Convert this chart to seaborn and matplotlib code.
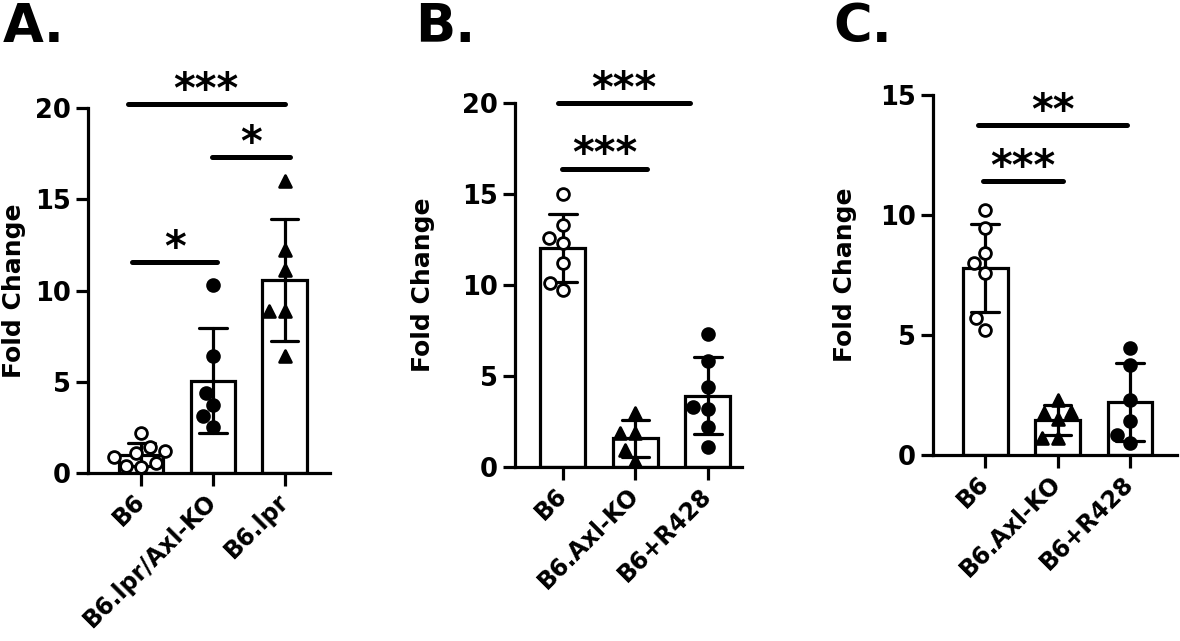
import numpy as np
import pandas as pd
import seaborn as sns
import matplotlib.pyplot as plt

sns.set_style("ticks")
plt.rcParams['font.family'] = ['DejaVu Sans']
plt.rcParams['font.weight'] = 'bold'
plt.rcParams['axes.labelweight'] = 'bold'
for k in ('text.color', 'axes.labelcolor', 'xtick.color', 'ytick.color', 'axes.edgecolor'):
    plt.rcParams[k] = 'black'

# Panel A data
A_groups = ["B6", "B6.lpr/Axl-KO", "B6.lpr"]
A_b6 = [2.2, 1.4, 1.2, 1.1, 0.9, 0.55, 0.4, 0.35]
A_axl = [10.3, 6.4, 4.4, 3.7, 3.1, 2.5]
A_lpr = [16.0, 12.2, 11.1, 8.9, 8.9, 6.4]

# Panel B data
B_groups = ["B6", "B6.Axl-KO", "B6+R428"]
B_b6 = [15.0, 13.3, 12.6, 12.3, 11.2, 10.1, 9.7]
B_axl = [2.95, 1.85, 1.85, 0.9, 0.3]
B_r428 = [7.3, 5.8, 4.4, 3.3, 3.2, 2.2, 1.1]

# Panel C data
C_groups = ["B6", "B6.Axl-KO", "B6+R428"]
C_b6 = [10.2, 9.45, 8.4, 8.0, 7.6, 5.7, 5.2]
C_axl = [2.3, 1.8, 1.75, 1.5, 0.7, 0.7]
C_r428 = [4.46, 3.75, 2.3, 1.4, 0.83, 0.5]

# significance: (group from, group to, height, label)
A_sig = [("B6", "B6.lpr", 20.2, "***"), ("B6.lpr/Axl-KO", "B6.lpr", 17.3, "*"),
         ("B6", "B6.lpr/Axl-KO", 11.55, "*")]
B_sig = [("B6", "B6+R428", 20.0, "***"), ("B6", "B6.Axl-KO", 16.4, "***")]
C_sig = [("B6", "B6+R428", 13.75, "**"), ("B6", "B6.Axl-KO", 11.4, "***")]

# how far each line runs past the bar centres (left, right)
A_ext = [(-0.19, 0.0), (-0.01, 0.07), (-0.125, 0.06)]
B_ext = [(-0.07, -0.25), (-0.01, 0.16)]
C_ext = [(-0.1, -0.04), (-0.03, 0.08)]

markers = [("o", "white"), ("o", "black"), ("^", "black")]
LW = 2.3

fig = plt.figure(figsize=(11.8, 6.41), dpi=100)
panels = [
    ("A.", A_groups, [A_b6, A_axl, A_lpr], [markers[0], markers[1], markers[2]],
     A_sig, A_ext, [0.0746, 0.2621, 0.205, 0.5694], (-0.74, 2.63), 20, [0, 5, 10, 15, 20], -0.255, 0.002),
    ("B.", B_groups, [B_b6, B_axl, B_r428], [markers[0], markers[2], markers[1]],
     B_sig, B_ext, [0.4364, 0.2719, 0.1924, 0.567], (-0.66, 2.47), 20, [0, 5, 10, 15, 20], -0.35, 0.352),
    ("C.", C_groups, [C_b6, C_axl, C_r428], [markers[0], markers[2], markers[1]],
     C_sig, C_ext, [0.7907, 0.2902, 0.2068, 0.5616], (-0.72, 2.65), 15, [0, 5, 10, 15], -0.31, 0.706),
]

for letter, groups, vals, mks, sig, ext, pos, xlim, ymax, yticks, labx, letx in panels:
    ax = fig.add_axes(pos)
    df = pd.DataFrame({
        "group": np.repeat(groups, [len(v) for v in vals]),
        "value": np.concatenate(vals),
    })
    sns.barplot(data=df, x="group", y="value", order=groups, errorbar="sd",
                width=0.62, fill=False, color="black", linewidth=LW,
                capsize=0.38, err_kws={"linewidth": LW, "color": "black"}, ax=ax)
    for g, (m, fc) in zip(groups, mks):
        sns.swarmplot(data=df[df["group"] == g], x="group", y="value", order=groups,
                      marker=m, size=8.5, color=fc, edgecolor="black", linewidth=2,
                      ax=ax, zorder=5, warn_thresh=1)
    ax.set_xlim(*xlim)
    ax.set_ylim(0, ymax)
    ax.set_yticks(yticks)
    sns.despine(ax=ax)
    for s in ("left", "bottom"):
        ax.spines[s].set_linewidth(LW)
    ax.tick_params(axis="both", width=LW, length=9, labelsize=18.5, color="black")
    ax.tick_params(axis="x", pad=9, labelsize=17)
    for lab in ax.get_xticklabels():
        lab.set_rotation(45)
        lab.set_ha("right")
        lab.set_va("center")
        lab.set_rotation_mode("anchor")
        lab.set_fontweight("bold")
    for lab in ax.get_yticklabels():
        lab.set_fontweight("bold")
    ax.set_xlabel("")
    ax.set_ylabel("Fold Change", fontsize=18, fontweight="bold")
    ax.yaxis.set_label_coords(labx, 0.5)

    for (g0, g1, h, txt), (e0, e1) in zip(sig, ext):
        x0 = groups.index(g0) + e0
        x1 = groups.index(g1) + e1
        ax.plot([x0, x1], [h, h], color="black", lw=3.6, solid_capstyle="round",
                clip_on=False)
        ax.annotate(txt, ((x0 + x1) / 2, h), xytext=(0, 1), textcoords="offset points",
                    ha="center", va="baseline", fontsize=30, fontweight="bold",
                    annotation_clip=False)

    fig.text(letx, 0.998, letter, ha="left", va="top", fontsize=38, fontweight="bold")

fig.savefig("out.png", dpi=100)
